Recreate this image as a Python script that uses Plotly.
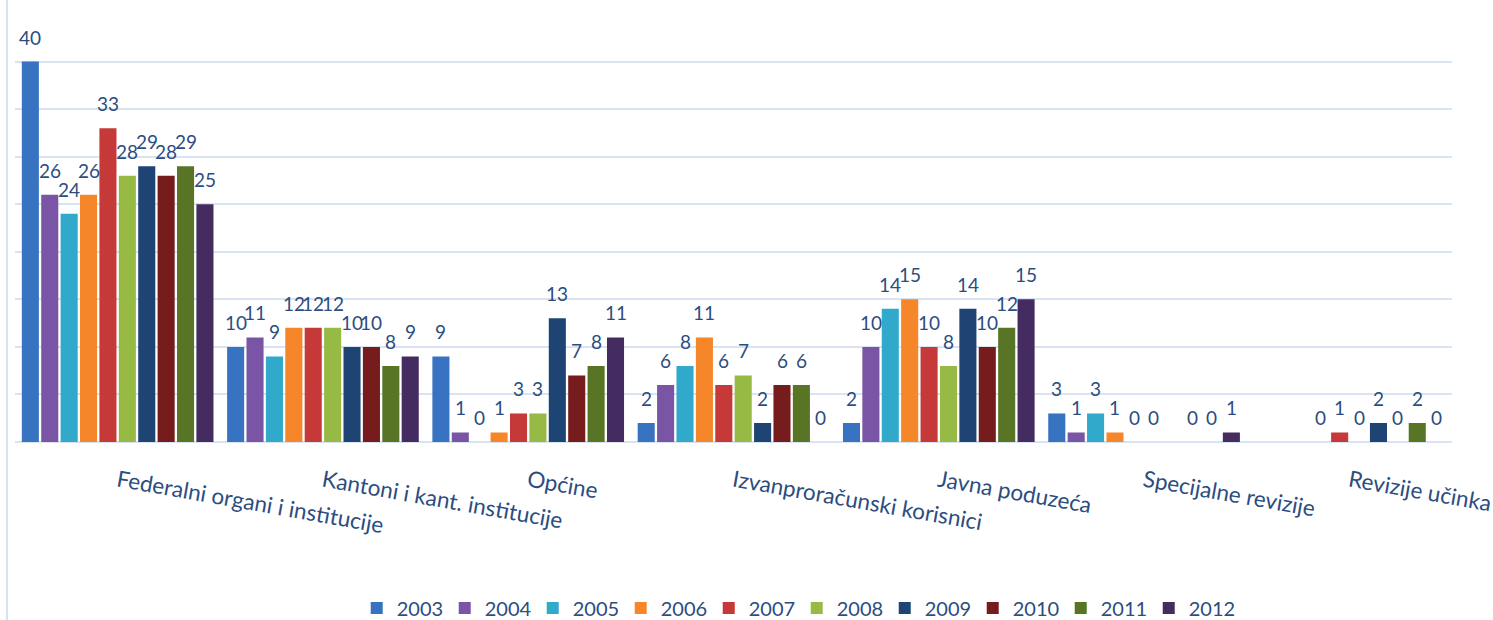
import plotly.graph_objects as go

categories = ["Federalni organi i institucije", "Kantoni i kant. institucije", "Općine",
              "Izvanproračunski korisnici", "Javna poduzeća", "Specijalne revizije", "Revizije učinka"]
years = ["2003", "2004", "2005", "2006", "2007", "2008", "2009", "2010", "2011", "2012"]

v2003 = [40, 10, 9, 2, 2, 3, None]
v2004 = [26, 11, 1, 6, 10, 1, None]
v2005 = [24, 9, 0, 8, 14, 3, None]
v2006 = [26, 12, 1, 11, 15, 1, 0]
v2007 = [33, 12, 3, 6, 10, 0, 1]
v2008 = [28, 12, 3, 7, 8, 0, 0]
v2009 = [29, 10, 13, 2, 14, None, 2]
v2010 = [28, 10, 7, 6, 10, 0, 0]
v2011 = [29, 8, 8, 6, 12, 0, 2]
v2012 = [25, 9, 11, 0, 15, 1, 0]
series = [v2003, v2004, v2005, v2006, v2007, v2008, v2009, v2010, v2011, v2012]

colors = ["#3873C2", "#7A55A6", "#31A9CB", "#F5862A", "#C53A38",
          "#97BA45", "#1E4473", "#761C1C", "#587526", "#442C60"]

label_color = "#2C4D7F"
font_family = "Lato, 'Open Sans', sans-serif"
bargap = 0.055

fig = go.Figure()
for yr, vals, col in zip(years, series, colors):
    fig.add_trace(go.Bar(
        name=yr, x=list(range(len(categories))), y=vals,
        marker=dict(color=col, line=dict(width=0)),
        hoverinfo="skip",
    ))

# data labels above bars
n = len(years)
slot = (1 - bargap) / n
for i, vals in enumerate(series):
    for j, v in enumerate(vals):
        if v is None:
            continue
        fig.add_annotation(
            x=j + (i - (n - 1) / 2) * slot, y=v, xref="x", yref="y",
            text=str(v), showarrow=False, yanchor="bottom", yshift=11,
            font=dict(family=font_family, size=19, color=label_color),
        )

# left border line
fig.add_shape(type="line", xref="paper", yref="paper",
              x0=-0.0056, x1=-0.0056, y0=-0.42, y1=1.04,
              line=dict(color="#D6E2F2", width=2))

fig.update_layout(
    width=1493, height=620,
    margin=dict(l=15, r=41, t=14, b=178, autoexpand=False),
    paper_bgcolor="white", plot_bgcolor="white",
    barmode="group", bargap=bargap, bargroupgap=0.12,
    font=dict(family=font_family, color=label_color),
    showlegend=True,
    legend=dict(orientation="h", x=0.544, xanchor="center", y=-0.388, yanchor="middle",
                font=dict(family=font_family, size=20, color=label_color),
                itemwidth=30, entrywidth=43, traceorder="normal"),
    xaxis=dict(
        tickmode="array", tickvals=list(range(len(categories))), ticktext=categories,
        tickangle=10, tickfont=dict(family=font_family, size=22.5, color=label_color),
        showgrid=False, zeroline=False, showline=False, ticks="", automargin=False,
        ticklabelstandoff=21, ticklabeloverflow="allow",
        range=[-0.5, len(categories) - 0.5],
    ),
    yaxis=dict(
        range=[0, 45], dtick=5, showticklabels=False, ticks="", automargin=False,
        showgrid=True, gridcolor="#D9E3F1", gridwidth=2,
        zeroline=True, zerolinecolor="#D9E3F1", zerolinewidth=2, showline=False,
    ),
)

fig.write_html("out.html", config={"displayModeBar": False},
               post_script="document.body.style.margin='0';")
